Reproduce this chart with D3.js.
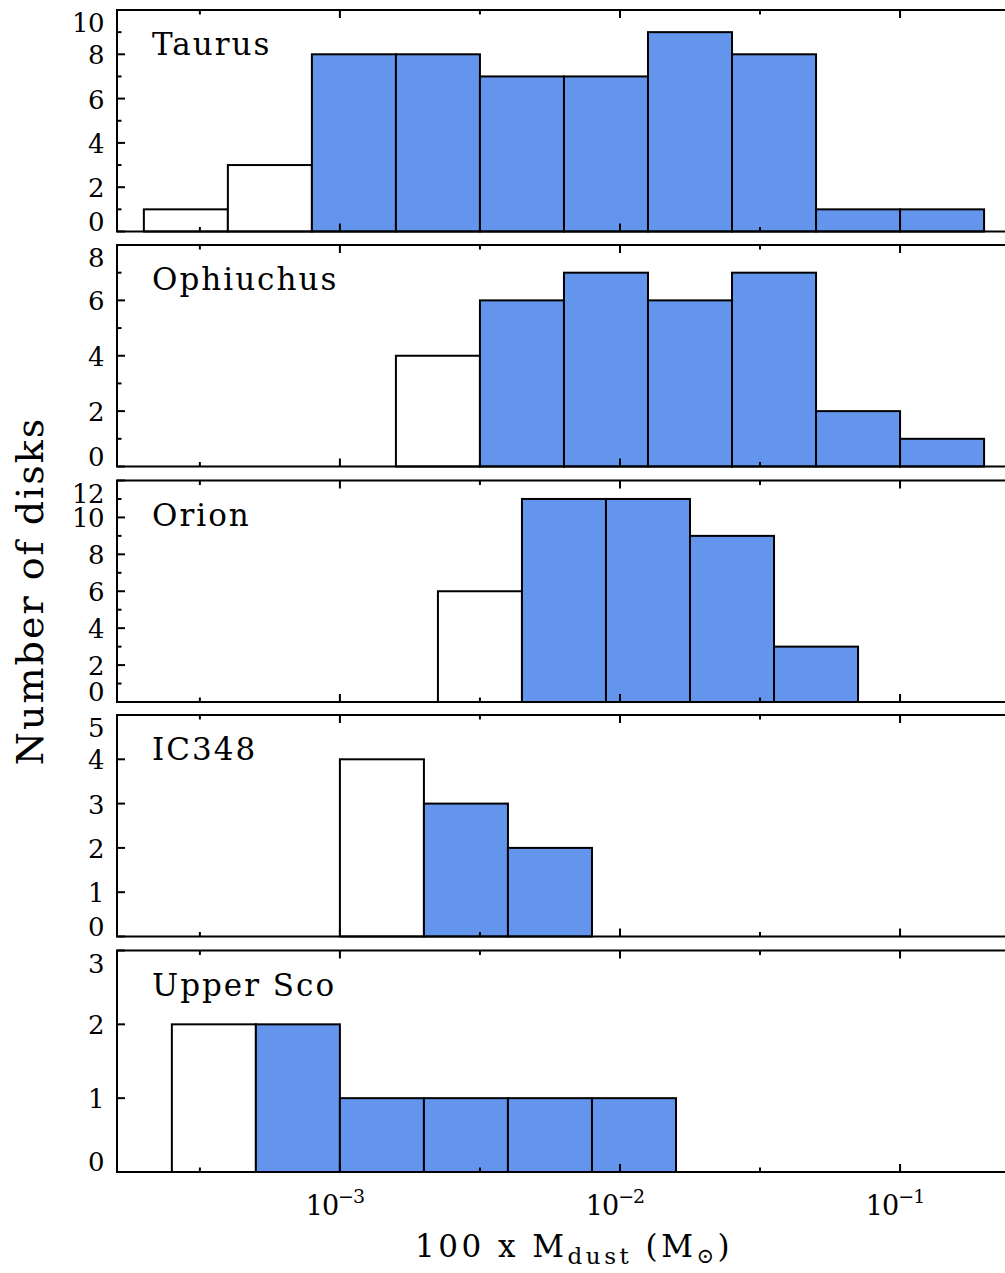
<!DOCTYPE html>
<html><head><meta charset="utf-8">
<script src="https://cdn.jsdelivr.net/npm/d3@7/dist/d3.min.js"></script>
<style>
body{margin:0;background:#fff}
svg{display:block}
text{font-family:"DejaVu Serif","Liberation Serif",serif;fill:#000}
</style>
</head><body>
<svg id="chart" width="1005" height="1273"></svg>
<script>
// ---- data ----
const panelNames = ["Taurus", "Ophiuchus", "Orion", "IC348", "Upper Sco"];

// lower bin edges, log10(100 x Mdust / Msun); each bin is 0.3 dex wide
const taurusBins    = [-3.7, -3.4, -3.1, -2.8, -2.5, -2.2, -1.9, -1.6, -1.3, -1.0];
const taurusCounts  = [1, 3, 8, 8, 7, 7, 9, 8, 1, 1];
const taurusOpen    = [true, true, false, false, false, false, false, false, false, false];

const ophBins       = [-2.8, -2.5, -2.2, -1.9, -1.6, -1.3, -1.0];
const ophCounts     = [4, 6, 7, 6, 7, 2, 1];
const ophOpen       = [true, false, false, false, false, false, false];

const orionBins     = [-2.65, -2.35, -2.05, -1.75, -1.45];
const orionCounts   = [6, 11, 11, 9, 3];
const orionOpen     = [true, false, false, false, false];

const ic348Bins     = [-3.0, -2.7, -2.4];
const ic348Counts   = [4, 3, 2];
const ic348Open     = [true, false, false];

const upscoBins     = [-3.6, -3.3, -3.0, -2.7, -2.4, -2.1];
const upscoCounts   = [2, 2, 1, 1, 1, 1];
const upscoOpen     = [true, false, false, false, false, false];

const binWidthDex = 0.3;

const yMax        = [10, 8, 12, 5, 3];
const yMajorStep  = [2, 2, 2, 1, 1];
const yMinorStep  = [1, 1, 1, 0, 0];

const xMajorExp   = [-3, -2, -1];
const xMinorLog   = [-3.5, -2.5, -1.5];
const xDomain     = [1.6e-4, 0.25];

const yTitle = "Number of disks";

// ---- layout ----
const svg = d3.select("#chart");
const left = 117, right = 1011.5;
const panelTops = [10, 245, 480.5, 715, 950.5];
const panelH = 221.5;
const fill = "#6495ED";

const x = d3.scaleLog().domain(xDomain).range([left, right]);

const panels = [
  {bins: taurusBins, counts: taurusCounts, open: taurusOpen},
  {bins: ophBins, counts: ophCounts, open: ophOpen},
  {bins: orionBins, counts: orionCounts, open: orionOpen},
  {bins: ic348Bins, counts: ic348Counts, open: ic348Open},
  {bins: upscoBins, counts: upscoCounts, open: upscoOpen}
];

panels.forEach((p, i) => {
  const top = panelTops[i], bottom = top + panelH;
  const y = d3.scaleLinear().domain([0, yMax[i]]).range([bottom, top]);
  const g = svg.append("g");

  const data = p.bins.map((b, k) => ({lo: Math.pow(10, b), hi: Math.pow(10, b + binWidthDex), n: p.counts[k], open: p.open[k]}));
  g.selectAll("rect.bar").data(data).join("rect")
    .attr("class", "bar")
    .attr("x", d => x(d.lo))
    .attr("width", d => x(d.hi) - x(d.lo))
    .attr("y", d => y(d.n))
    .attr("height", d => y(0) - y(d.n))
    .attr("fill", d => d.open ? "#fff" : fill)
    .attr("stroke", "#000")
    .attr("stroke-width", 2);

  // frame
  g.append("rect").attr("x", left).attr("y", top).attr("width", right - left).attr("height", panelH)
    .attr("fill", "none").attr("stroke", "#000").attr("stroke-width", 2);

  // x ticks (top & bottom, inward)
  const xt = xMajorExp.map(e => ({v: Math.pow(10, e), len: 8}))
    .concat(xMinorLog.map(l => ({v: Math.pow(10, l), len: 4.5})));
  xt.forEach(t => {
    const xx = x(t.v);
    g.append("line").attr("x1", xx).attr("x2", xx).attr("y1", bottom).attr("y2", bottom - t.len)
      .attr("stroke", "#000").attr("stroke-width", 2);
    g.append("line").attr("x1", xx).attr("x2", xx).attr("y1", top).attr("y2", top + t.len)
      .attr("stroke", "#000").attr("stroke-width", 2);
  });

  // y ticks
  const majors = d3.range(0, yMax[i] + 0.001, yMajorStep[i]);
  const minors = yMinorStep[i] ? d3.range(0, yMax[i] + 0.001, yMinorStep[i]).filter(v => v % yMajorStep[i] !== 0) : [];
  majors.forEach(v => {
    g.append("line").attr("x1", left).attr("x2", left + 8).attr("y1", y(v)).attr("y2", y(v))
      .attr("stroke", "#000").attr("stroke-width", 2);
    const cy = Math.max(top + 13, Math.min(bottom - 10, y(v) + 1));
    g.append("text").attr("x", 104).attr("y", cy + 9).attr("text-anchor", "end")
      .attr("font-size", 26).attr("letter-spacing", -0.5).text(v);
  });
  minors.forEach(v => {
    g.append("line").attr("x1", left).attr("x2", left + 4.5).attr("y1", y(v)).attr("y2", y(v))
      .attr("stroke", "#000").attr("stroke-width", 2);
  });

  // panel label
  g.append("text").attr("x", 152).attr("y", top + 45).attr("font-size", 31)
    .attr("letter-spacing", 2).text(panelNames[i]);

  // x tick labels on bottom panel
  if (i === panels.length - 1) {
    xMajorExp.forEach(e => {
      const t = g.append("text").attr("x", x(Math.pow(10, e)) - 5).attr("y", 1215)
        .attr("text-anchor", "middle").attr("font-size", 27).attr("letter-spacing", -1);
      t.append("tspan").text("10");
      t.append("tspan").attr("font-size", 19).attr("dy", -12).text("\u2212" + Math.abs(e));
    });
  }
});

// axis titles
const xt = svg.append("text").attr("x", 415).attr("y", 1257).attr("font-size", 31).attr("letter-spacing", 3.5);
xt.append("tspan").text("100 x M");
xt.append("tspan").attr("font-size", 23).attr("dy", 7).text("dust");
xt.append("tspan").attr("dy", -7).text(" (M");
xt.append("tspan").attr("font-size", 21).attr("dy", 6).text("\u2299");
xt.append("tspan").attr("dy", -6).text(")");

svg.append("text").attr("transform", "translate(43,591) rotate(-90)")
  .attr("text-anchor", "middle").attr("font-size", 38).attr("letter-spacing", 2).text(yTitle);
</script>
</body></html>
